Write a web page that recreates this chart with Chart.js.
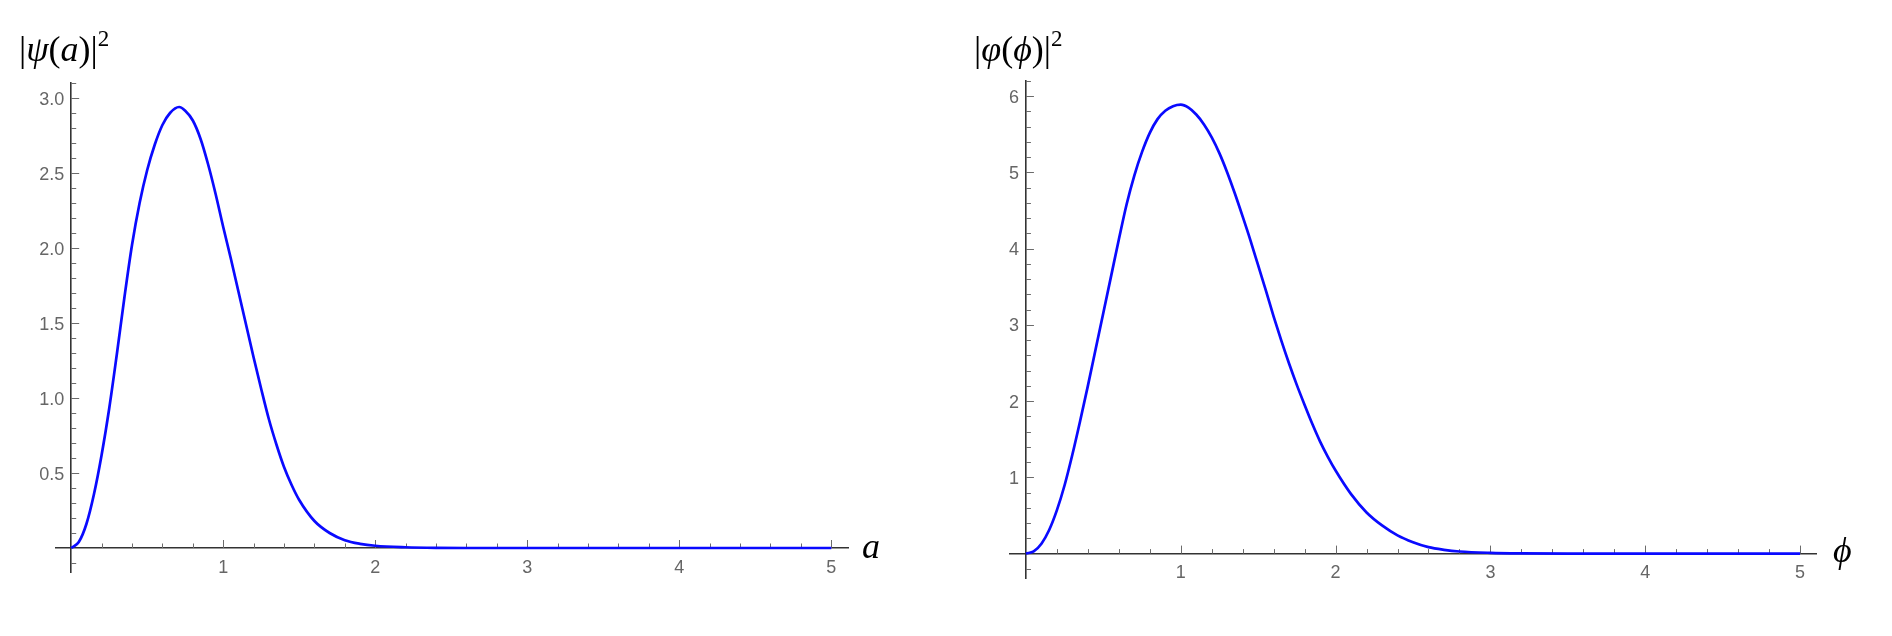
<!DOCTYPE html>
<html>
<head>
<meta charset="UTF-8">
<title>|ψ(a)|² and |φ(ϕ)|²</title>
<script src="https://cdn.jsdelivr.net/npm/chart.js"></script>
<style>
  body { margin: 0; background: #fff; }
  #wrap { position: relative; width: 1892px; height: 636px; overflow: hidden; }
  .panel { position: absolute; top: 0; width: 946px; height: 636px; }
  .lbl { position: absolute; font-family: "Liberation Serif", "DejaVu Serif", serif; font-size: 36px; line-height: 1; color: #000; white-space: nowrap; }
  .lbl i { font-style: italic; }
  .lbl .sq { position: relative; top: -15px; font-size: 23px; }
</style>
</head>
<body>
<div id="wrap">
  <div class="panel" style="left:0"><canvas id="psiChart" width="946" height="636"></canvas></div>
  <div class="panel" style="left:946px"><canvas id="phiChart" width="946" height="636"></canvas></div>

  <div class="lbl" style="left:19px; top:31px">|<i>ψ</i>(<i>a</i>)|<span class="sq">2</span></div>
  <div class="lbl" style="left:862px; top:528px"><i>a</i></div>
  <div class="lbl" style="left:974px; top:31px">|<i>φ</i>(<i>ϕ</i>)|<span class="sq">2</span></div>
  <div class="lbl" style="left:1833px; top:532px"><i>ϕ</i></div>
</div>

<script>
// left panel, |psi(a)|^2
const aValues   = [0, 0.05, 0.10, 0.15, 0.20, 0.25, 0.30, 0.35, 0.40, 0.45, 0.50, 0.55, 0.60, 0.65, 0.71,
                   0.75, 0.80, 0.85, 0.90, 0.95, 1.00, 1.05, 1.10, 1.15, 1.20, 1.25, 1.30, 1.35, 1.40, 1.45, 1.50,
                   1.60, 1.70, 1.80, 1.90, 2.00, 2.20, 2.40, 2.60, 3.0, 4.0, 5.0];
const psiValues = [0, 0.04, 0.16, 0.36, 0.62, 0.93, 1.29, 1.67, 2.02, 2.30, 2.52, 2.69, 2.82, 2.90, 2.94,
                   2.915, 2.85, 2.73, 2.56, 2.36, 2.14, 1.93, 1.71, 1.49, 1.27, 1.06, 0.86, 0.69, 0.54, 0.42, 0.32,
                   0.18, 0.10, 0.052, 0.028, 0.015, 0.005, 0.001, 0, 0, 0, 0];

// right panel, |varphi(phi)|^2
const phiValues    = [0, 0.05, 0.10, 0.15, 0.20, 0.25, 0.30, 0.35, 0.40, 0.45, 0.50, 0.55, 0.60, 0.65, 0.70, 0.75,
                      0.80, 0.85, 0.90, 0.95, 1.00, 1.05, 1.10, 1.15, 1.20, 1.25, 1.30, 1.35, 1.40, 1.45, 1.50,
                      1.55, 1.60, 1.65, 1.70, 1.75, 1.80, 1.85, 1.90, 1.95, 2.00, 2.10, 2.20, 2.30, 2.40, 2.50,
                      2.60, 2.70, 2.80, 3.00, 3.20, 3.50, 4.0, 5.0];
const varphiValues = [0, 0.03, 0.13, 0.31, 0.57, 0.90, 1.30, 1.74, 2.20, 2.68, 3.16, 3.64, 4.12, 4.58, 4.96, 5.27,
                      5.52, 5.70, 5.81, 5.87, 5.89, 5.85, 5.76, 5.63, 5.46, 5.25, 5.00, 4.72, 4.42, 4.11, 3.78,
                      3.45, 3.11, 2.79, 2.49, 2.21, 1.95, 1.70, 1.47, 1.27, 1.09, 0.78, 0.54, 0.37, 0.24, 0.15,
                      0.085, 0.05, 0.028, 0.01, 0.003, 0, 0, 0];

// tick labels
const psiXTicks = [1, 2, 3, 4, 5];
const psiYTicks = [0.5, 1.0, 1.5, 2.0, 2.5, 3.0];
const phiXTicks = [1, 2, 3, 4, 5];
const phiYTicks = [1, 2, 3, 4, 5, 6];

// Mathematica-style axes: ticks point inward, labels sit beside the axes through the origin
const mathAxes = {
    id: 'mathAxes',
    beforeDatasetsDraw(chart, args, opts) {
        const ctx = chart.ctx;
        const xs = chart.scales.x, ys = chart.scales.y;
        const x0 = xs.getPixelForValue(0), y0 = ys.getPixelForValue(0);

        const marks = (scale, step, majors) => {
            const out = [];
            for (let i = Math.ceil(scale.min / step - 1e-9); i <= Math.floor(scale.max / step + 1e-9); i++) {
                const v = i * step;
                if (Math.abs(v) < 1e-9) continue;
                out.push({ v, major: majors.some(m => Math.abs(m - v) < 1e-6) });
            }
            return out;
        };

        ctx.save();
        ctx.strokeStyle = '#6b6b6b';
        ctx.lineWidth = 1;
        ctx.beginPath();
        marks(xs, opts.xMinor, opts.xTicks).forEach(t => {
            const px = Math.round(xs.getPixelForValue(t.v)) + 0.5;
            ctx.moveTo(px, y0);
            ctx.lineTo(px, y0 - (t.major ? 8 : 4.5));
        });
        marks(ys, opts.yMinor, opts.yTicks).forEach(t => {
            const py = Math.round(ys.getPixelForValue(t.v)) + 0.5;
            ctx.moveTo(x0, py);
            ctx.lineTo(x0 + (t.major ? 8 : 5), py);
        });
        ctx.stroke();

        ctx.fillStyle = '#666';
        ctx.font = '18px "Liberation Sans", Arial, sans-serif';
        ctx.textBaseline = 'alphabetic';
        ctx.textAlign = 'center';
        opts.xTicks.forEach(v => ctx.fillText(String(v), xs.getPixelForValue(v), y0 + 24.5));
        ctx.textAlign = 'right';
        opts.yTicks.forEach(v => ctx.fillText(opts.yFormat(v), x0 - 7, ys.getPixelForValue(v) + 6.5));
        ctx.restore();
    }
};

function makeChart(id, xVals, yVals, cfg) {
    return new Chart(document.getElementById(id), {
        type: 'scatter',
        data: {
            datasets: [{
                data: xVals.map((x, i) => ({ x: x, y: yVals[i] })),
                showLine: true,
                borderColor: '#0a0aff',
                borderWidth: 2.7,
                pointRadius: 0,
                cubicInterpolationMode: 'monotone',
                fill: false
            }]
        },
        options: {
            responsive: false,
            animation: false,
            events: [],
            layout: { padding: cfg.padding },
            plugins: {
                legend: { display: false },
                tooltip: { enabled: false },
                mathAxes: { xTicks: cfg.xTicks, yTicks: cfg.yTicks, xMinor: cfg.xMinor, yMinor: cfg.yMinor, yFormat: cfg.yFormat }
            },
            scales: {
                x: {
                    type: 'linear', position: { y: 0 },
                    min: cfg.xRange[0], max: cfg.xRange[1],
                    grid: { display: false, drawTicks: false },
                    ticks: { display: false },
                    border: { display: true, color: '#333', width: 1.6 }
                },
                y: {
                    type: 'linear', position: { x: 0 },
                    min: cfg.yRange[0], max: cfg.yRange[1],
                    grid: { display: false, drawTicks: false },
                    ticks: { display: false },
                    border: { display: true, color: '#333', width: 1.6 }
                }
            }
        },
        plugins: [mathAxes]
    });
}

makeChart('psiChart', aValues, psiValues, {
    padding: { left: 56, right: 98, top: 83, bottom: 64 },
    xRange: [-0.1, 5.11], yRange: [-0.16, 3.1],
    xTicks: psiXTicks, yTicks: psiYTicks, xMinor: 0.2, yMinor: 0.1,
    yFormat: v => v.toFixed(1)
});

makeChart('phiChart', phiValues, varphiValues, {
    padding: { left: 64, right: 76, top: 81, bottom: 58 },
    xRange: [-0.103, 5.103], yRange: [-0.32, 6.2],
    xTicks: phiXTicks, yTicks: phiYTicks, xMinor: 0.2, yMinor: 0.2,
    yFormat: v => String(v)
});
</script>
</body>
</html>
